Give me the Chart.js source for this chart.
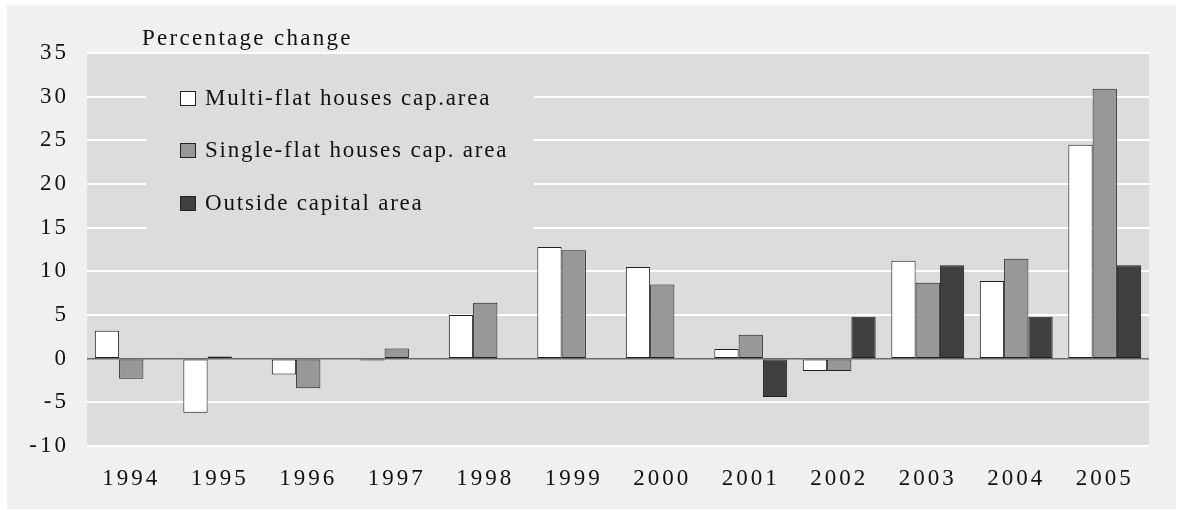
<!DOCTYPE html>
<html>
<head>
<meta charset="utf-8">
<script src="https://cdn.jsdelivr.net/npm/chart.js@4.4.0/dist/chart.umd.min.js"></script>
<style>
  html, body { margin: 0; padding: 0; background: #ffffff; }
  #wrap { width: 1179px; height: 510px; position: relative; }
</style>
</head>
<body>
<div id="wrap"><canvas id="c" width="1179" height="510"></canvas></div>
<script>
const categories = ['1994','1995','1996','1997','1998','1999','2000','2001','2002','2003','2004','2005'];
const multiFlat  = [3.2, -6.2, -1.8, -0.2, 5.0, 12.8, 10.5, 1.1, -1.4, 11.2, 8.9, 24.5];
const singleFlat = [-2.3, 0.25, -3.4, 1.15, 6.4, 12.4, 8.5, 2.75, -1.4, 8.7, 11.45, 30.9];
const outsideCap = [null, null, null, null, null, null, null, -4.4, 4.8, 10.7, 4.8, 10.7];
const seriesNames = ['Multi-flat houses cap.area', 'Single-flat houses cap. area', 'Outside capital area'];
const axisTitle = 'Percentage change';
const yMin = -10, yMax = 35, yStep = 5;

const FONT = "'Liberation Serif', 'Times New Roman', serif";
const TICK_SPACING = '3px';
const TITLE_SPACING = '2.3px';
const LEGEND_SPACING = '1.8px';

const spacingPlugin = {
  id: 'spacing',
  beforeUpdate(chart) { chart.ctx.letterSpacing = TICK_SPACING; },
  beforeLayout(chart) { chart.ctx.letterSpacing = TICK_SPACING; },
  beforeDraw(chart) { chart.ctx.letterSpacing = TICK_SPACING; }
};

const backgroundPlugin = {
  id: 'bgpanel',
  beforeDraw(chart) {
    const ctx = chart.ctx;
    const a = chart.chartArea;
    ctx.save();
    ctx.fillStyle = '#ffffff';
    ctx.fillRect(0, 0, chart.width, chart.height);
    ctx.fillStyle = '#f0f0f0';
    ctx.fillRect(7, 5, chart.width - 10, chart.height - 6);
    ctx.fillStyle = '#dcdcdc';
    ctx.fillRect(a.left, a.top, a.right - a.left, a.bottom - a.top);
    ctx.restore();
  }
};

const overlayPlugin = {
  id: 'overlay',
  afterDraw(chart) {
    const ctx = chart.ctx;
    ctx.save();
    // axis title
    ctx.letterSpacing = TITLE_SPACING;
    ctx.fillStyle = '#111111';
    ctx.font = '23px ' + FONT;
    ctx.textBaseline = 'alphabetic';
    ctx.textAlign = 'left';
    ctx.fillText(axisTitle, 142, 45);
    // legend box
    ctx.letterSpacing = LEGEND_SPACING;
    ctx.fillStyle = '#dcdcdc';
    ctx.fillRect(146, 60, 388, 176);
    const rows = [98, 150, 203];
    chart.data.datasets.forEach((ds, i) => {
      const y = rows[i];
      ctx.fillStyle = ds.backgroundColor;
      ctx.fillRect(180.5, y - 6.5, 15, 14);
      ctx.strokeStyle = '#222222';
      ctx.lineWidth = 1;
      ctx.strokeRect(180.5, y - 6.5, 15, 14);
      ctx.fillStyle = '#111111';
      ctx.textBaseline = 'middle';
      ctx.fillText(ds.label, 205, y + 1);
    });
    ctx.restore();
  }
};

new Chart(document.getElementById('c'), {
  type: 'bar',
  data: {
    labels: categories,
    datasets: [
      { label: seriesNames[0], data: multiFlat, backgroundColor: '#ffffff' },
      { label: seriesNames[1], data: singleFlat, backgroundColor: '#989898' },
      { label: seriesNames[2], data: outsideCap, backgroundColor: '#404040' }
    ]
  },
  options: {
    responsive: false,
    animation: false,
    devicePixelRatio: 1,
    layout: { padding: { top: 53, right: 30, bottom: 0, left: 0 } },
    datasets: {
      bar: {
        categoryPercentage: 0.823,
        barPercentage: 1.0,
        borderWidth: 1,
        borderColor: '#1e1e1e',
        borderSkipped: false
      }
    },
    plugins: {
      legend: { display: false },
      title: { display: false },
      tooltip: { enabled: false }
    },
    scales: {
      x: {
        grid: { display: false, drawTicks: false },
        border: { display: false },
        ticks: {
          color: '#111111',
          font: { family: FONT, size: 23 },
          padding: 19,
          maxRotation: 0,
          autoSkip: false
        },
        afterFit(scale) { scale.height = 64; }
      },
      y: {
        min: yMin,
        max: yMax,
        grid: {
          drawTicks: false,
          color: (c) => (c.tick && c.tick.value === 0) ? '#6a6a6a' : '#ffffff',
          lineWidth: (c) => (c.tick && c.tick.value === 0) ? 1.5 : 2
        },
        border: { display: false },
        ticks: {
          stepSize: yStep,
          color: '#111111',
          font: { family: FONT, size: 23 },
          padding: 18
        },
        afterFit(scale) { scale.width = 87; }
      }
    }
  },
  plugins: [spacingPlugin, backgroundPlugin, overlayPlugin]
});
</script>
</body>
</html>
